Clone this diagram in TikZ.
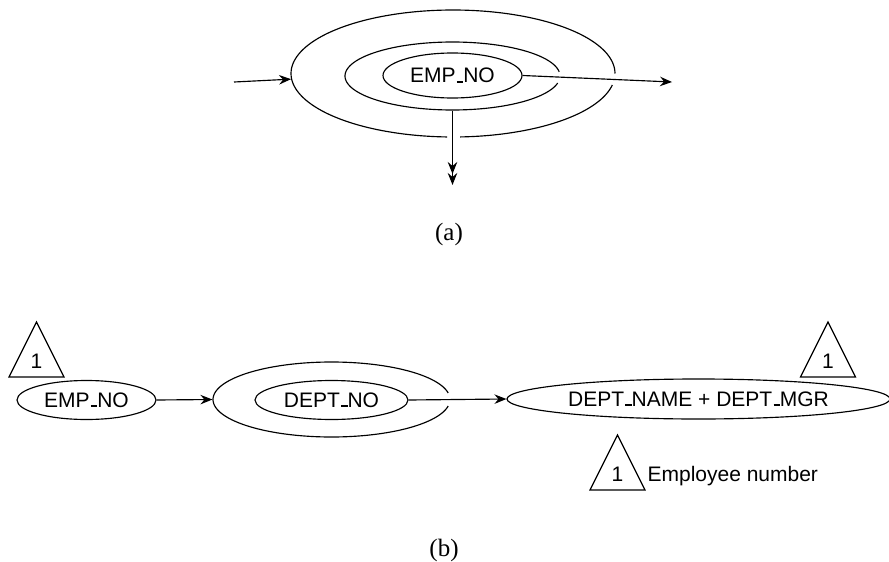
\documentclass[tikz,border=0pt]{standalone}
\usepackage{fontspec}
\setmainfont{Liberation Sans}
\newfontfamily\capfont{Liberation Serif}
\usetikzlibrary{shapes.geometric,arrows.meta}
% short raised underscore, as in classic LaTeX \_
\newcommand\usc{\leavevmode\kern.06em\vbox{\hrule width.3em height.09em depth0pt}}

\begin{document}
\begin{tikzpicture}[x=1pt,y=-1pt,
  line width=1.15pt,
  every node/.style={font=\fontsize{21}{25}\selectfont, inner sep=0pt},
  ell/.style={draw, ellipse, inner sep=0pt},
  hollow/.style={ellipse, inner sep=0pt},
  tip/.style={Stealth[length=12pt,width=9.5pt,inset=4pt]},
  arr/.style={-{Stealth[length=12pt,width=9.5pt,inset=4pt]}},
  arrtwo/.style={-{Stealth[length=12pt,width=9.5pt,inset=4pt,sep=-1pt]Stealth[length=12pt,width=9.5pt,inset=4pt]}},
  partlabel/.style={font=\capfont\fontsize{25}{29}\selectfont}
]
\useasboundingbox (0,0) rectangle (889,562);

% ---------- (a) nested key structure ----------
\node[hollow, minimum width=324, minimum height=127] (aOuter) at (453,73.5) {};
\node[hollow, minimum width=215, minimum height=68] (aMid) at (452.5,76) {};
\node[ell, minimum width=139, minimum height=45] (aEmp) at (452.5,75.5) {EMP\usc NO};

% open outer ring: gap on the right and at the bottom
\begin{scope}[shift={(aOuter.center)}]
  \draw plot[domain=10.4:87.5, samples=60, smooth] ({162*cos(\x)},{63.5*sin(\x)});
  \draw plot[domain=92.1:360, samples=120, smooth] ({162*cos(\x)},{63.5*sin(\x)});
\end{scope}
% open middle ring: gap on the right
\begin{scope}[shift={(aMid.center)}]
  \draw plot[domain=12:353, samples=150, smooth] ({107.5*cos(\x)},{34*sin(\x)});
\end{scope}

\coordinate (ain) at (234,82);
\coordinate (aout) at (672,82);
\coordinate (adown) at (452.5,185);
\draw[arr] (ain) -- (aOuter.182);
\draw[arr] (aEmp.east) -- (aout);
\draw[arrtwo] (aMid.south) -- (adown);

\node[partlabel] (capA) at (449,234) {(a)};

% ---------- (b) functional dependency chain ----------
\node[ell, minimum width=139, minimum height=39] (bEmp) at (86.5,400) {EMP\usc NO};
\node[hollow, minimum width=237, minimum height=75] (bOuter) at (331.5,399.5) {};
\node[ell, minimum width=153, minimum height=39] (bDept) at (331.5,400) {DEPT\usc NO};
\node[ell, minimum width=383, minimum height=40] (bName) at (698.5,399) {DEPT\usc NAME + DEPT\usc MGR};

\begin{scope}[shift={(bOuter.center)}]
  \draw plot[domain=10:350, samples=150, smooth] ({118.5*cos(\x)},{37.5*sin(\x)});
\end{scope}

\draw[arr] (bEmp.east) -- (bOuter.west);
\draw[arr] (bDept.east) -- (bName.west);

% numbered triangle markers
\foreach \nm/\cx/\by in {triL/36.5/377, triR/828/377, triK/617.5/490}{
  \draw (\cx-27.5,\by) -- (\cx,\by-55) -- (\cx+27.5,\by) -- cycle;
  \node[anchor=base] (\nm) at (\cx,\by-8.5) {1};
}
\node[anchor=base west] (keytext) at (647,481.7) {Employee number};

\node[partlabel] (capB) at (444,550) {(b)};
\end{tikzpicture}
\end{document}
